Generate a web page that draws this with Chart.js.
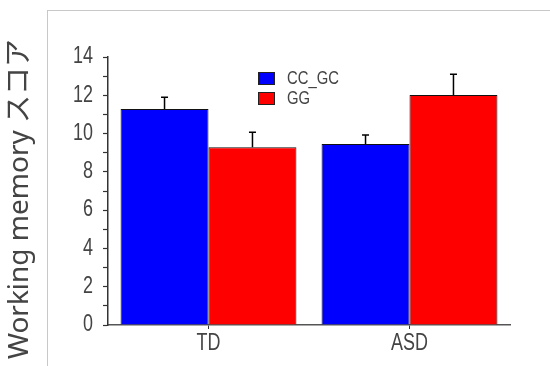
<!DOCTYPE html>
<html>
<head>
<meta charset="utf-8">
<script src="https://cdn.jsdelivr.net/npm/chart.js@4/dist/chart.umd.min.js"></script>
<style>
  html, body { margin: 0; padding: 0; background: #fff; }
  #wrap { position: relative; width: 550px; height: 366px; }
  #frame { position: absolute; left: 47px; top: 10px; right: 0; bottom: 0;
           border-left: 1px solid #c8c8c8; border-top: 1px solid #c8c8c8; }
  canvas { position: absolute; left: 0; top: 0; }
</style>
</head>
<body>
<div id="wrap">
  <div id="frame"></div>
  <canvas id="myChart" width="550" height="366"></canvas>
</div>
<script>
// data
const groups = ["TD", "ASD"];
const seriesNames = ["CC_GC", "GG"];
const ccgcMeans = [11.28, 9.46];
const ggMeans = [9.28, 12.02];
const ccgcErr = [0.62, 0.47];
const ggErr = [0.79, 1.08];
const yTicks = [0, 2, 4, 6, 8, 10, 12, 14];

const labelFont = "'Liberation Sans', Arial, sans-serif";
const squeeze = 0.78; // the original uses a tall narrow font

function narrowText(ctx, text, x, y, size, align) {
    ctx.save();
    ctx.translate(x, y);
    ctx.scale(squeeze, 1);
    ctx.font = size + 'px ' + labelFont;
    ctx.textAlign = align;
    ctx.textBaseline = 'middle';
    ctx.fillText(text, 0, 0);
    ctx.restore();
}

// upward error bars with a small cap
const errorBars = {
    id: 'errorBars',
    afterDatasetsDraw(chart) {
        const ctx = chart.ctx;
        const y = chart.scales.y;
        ctx.save();
        ctx.strokeStyle = '#000';
        ctx.lineWidth = 1.5;
        chart.data.datasets.forEach((ds, i) => {
            const meta = chart.getDatasetMeta(i);
            meta.data.forEach((bar, j) => {
                const top = y.getPixelForValue(ds.data[j] + ds.errors[j]);
                ctx.beginPath();
                ctx.moveTo(bar.x, bar.y);
                ctx.lineTo(bar.x, top);
                ctx.moveTo(bar.x - 3.5, top);
                ctx.lineTo(bar.x + 3.5, top);
                ctx.stroke();
            });
        });
        ctx.restore();
    }
};

// tick labels, legend inside the plot, rotated axis title
const extras = {
    id: 'extras',
    afterDraw(chart) {
        const ctx = chart.ctx;
        const xs = chart.scales.x, ys = chart.scales.y;
        ctx.save();
        ctx.fillStyle = '#444';
        yTicks.forEach(v => narrowText(ctx, String(v), 93, ys.getPixelForValue(v), 23, 'right'));
        groups.forEach((g, i) => narrowText(ctx, g, xs.getPixelForValue(i), 344, 23, 'center'));

        chart.data.datasets.forEach((ds, i) => {
            const by = 72 + i * 20;
            ctx.fillStyle = ds.backgroundColor;
            ctx.fillRect(258, by, 17, 13);
            ctx.strokeStyle = '#222';
            ctx.lineWidth = 1;
            ctx.strokeRect(258.5, by + 0.5, 16, 12);
            ctx.fillStyle = '#444';
            narrowText(ctx, ds.label, 287, by + 7, 19, 'left');
        });

        ctx.translate(20, 199);
        ctx.rotate(-Math.PI / 2);
        ctx.fillStyle = '#444';
        ctx.font = "28px 'Noto Sans', 'Noto Sans CJK JP', sans-serif";
        ctx.textAlign = 'center';
        ctx.textBaseline = 'middle';
        ctx.fillText('Working memory スコア', 0, 0);
        ctx.restore();
    }
};

new Chart(document.getElementById("myChart"), {
    type: 'bar',
    data: {
        labels: groups,
        datasets: [{
            label: seriesNames[0],
            data: ccgcMeans,
            errors: ccgcErr,
            backgroundColor: '#0000ff',
            borderColor: '#111',
            borderWidth: 1,
            borderSkipped: 'bottom'
        }, {
            label: seriesNames[1],
            data: ggMeans,
            errors: ggErr,
            backgroundColor: '#ff0000',
            borderColor: '#111',
            borderWidth: 1,
            borderSkipped: 'bottom'
        }]
    },
    options: {
        responsive: false,
        animation: false,
        layout: { padding: { top: 57, right: 40, left: 0, bottom: 0 } },
        datasets: { bar: { categoryPercentage: 0.875, barPercentage: 1 } },
        plugins: { legend: { display: false }, tooltip: { enabled: false } },
        scales: {
            x: {
                afterFit: s => { s.height = 41; },
                grid: { display: true, drawOnChartArea: false, offset: false,
                        drawTicks: true, tickLength: 4, tickColor: '#333' },
                border: { color: '#555', width: 1.5 },
                ticks: { display: false }
            },
            y: {
                min: 0,
                max: 14,
                afterFit: s => { s.width = 108; },
                afterBuildTicks: s => {
                    const t = [];
                    for (let v = 0; v <= 14; v++) t.push({ value: v });
                    s.ticks = t;
                },
                grid: { drawOnChartArea: false, drawTicks: true, tickLength: 5,
                        tickColor: '#333', tickWidth: 1.2 },
                border: { color: '#333', width: 1.5 },
                ticks: { display: false }
            }
        }
    },
    plugins: [errorBars, extras]
});
</script>
</body>
</html>
